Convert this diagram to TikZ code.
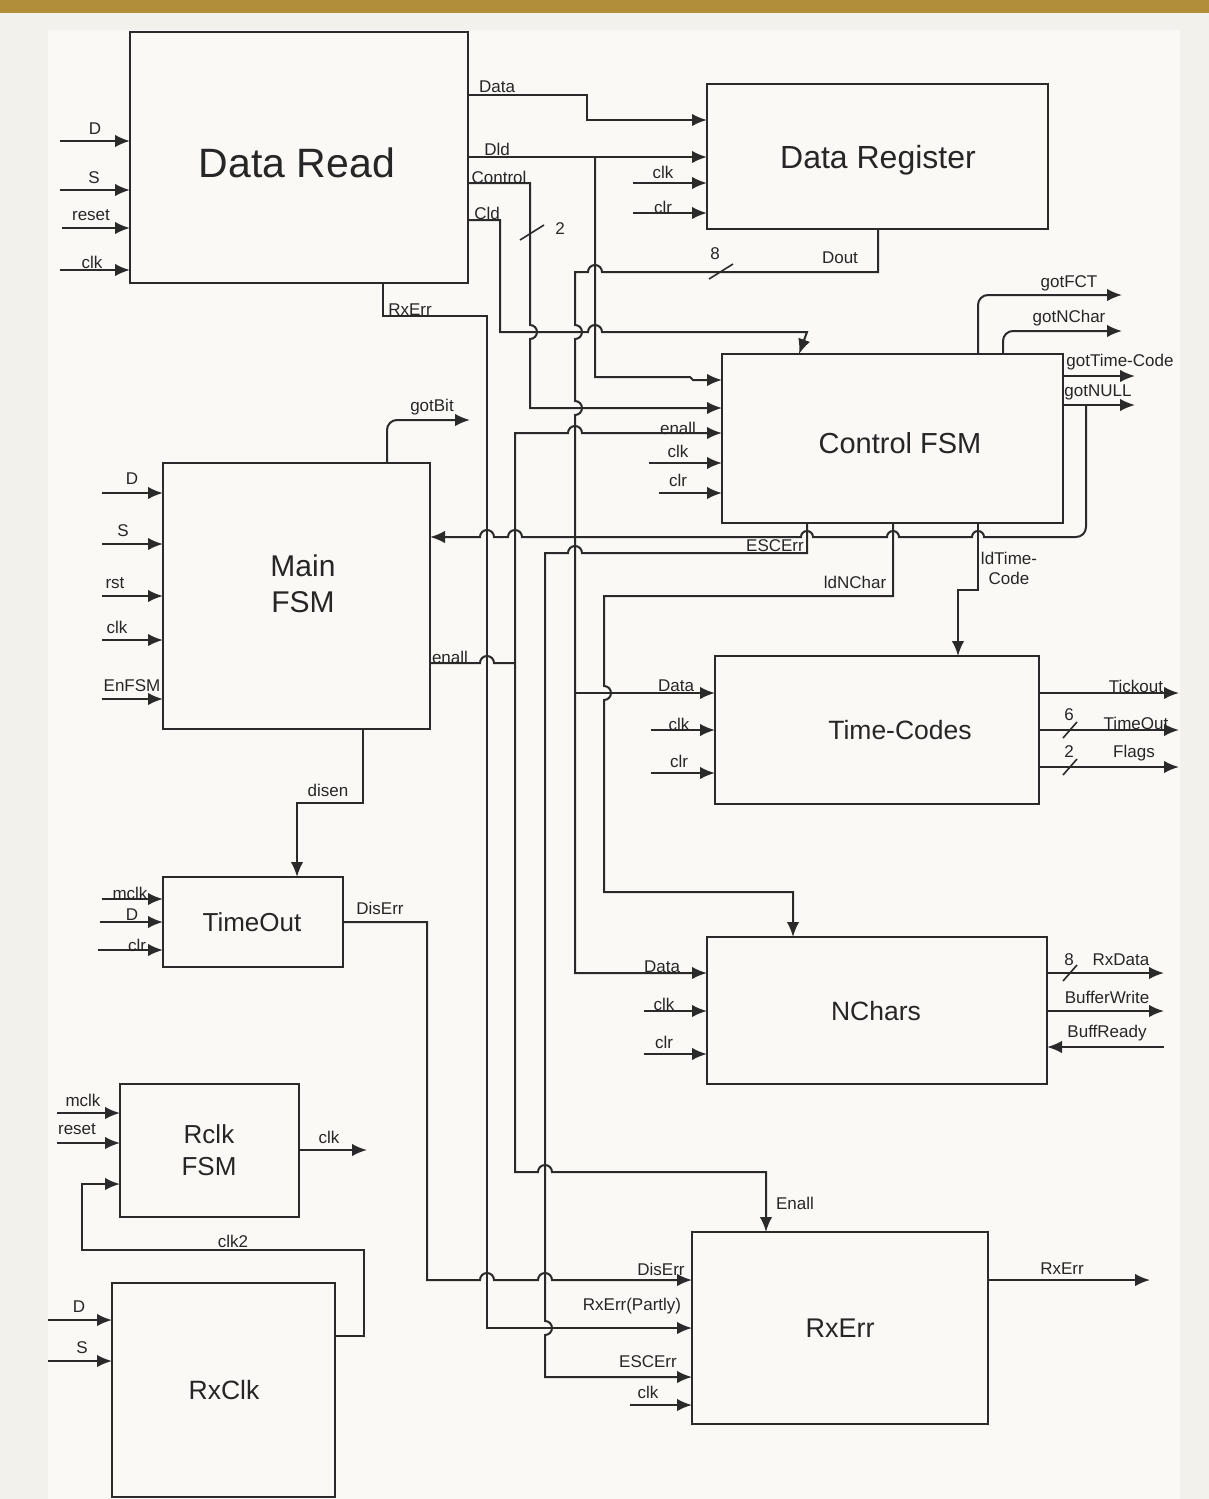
\documentclass[tikz,border=0pt]{standalone}
\usepackage{fontspec}
\setmainfont{Liberation Sans}
\usetikzlibrary{arrows.meta}
\definecolor{gold}{HTML}{B08E3A}
\definecolor{pagebg}{HTML}{F3F1EC}
\definecolor{panel}{HTML}{FAF9F6}
\definecolor{ln}{HTML}{2A2A2A}
\definecolor{txt}{HTML}{262626}
\newcommand{\sml}{\fontsize{17}{20}\selectfont}
\begin{document}
\begin{tikzpicture}[x=1pt,y=-1pt,
  wire/.style={draw=ln,line width=2pt},
  arr/.style={wire,-{Latex[length=15pt,width=12.5pt]}},
  blk/.style={draw=ln,line width=2pt,outer sep=0pt,inner sep=0pt,anchor=north west},
  lbl/.style={font=\sml,inner sep=0pt,text=txt},
  ttl/.style={inner sep=0pt,text=txt,align=center},
  bus/.style={draw=ln,line width=1.6pt}]
\useasboundingbox (0,0) rectangle (1209,1499);
\fill[pagebg] (0,0) rectangle (1209,1499);
\fill[panel] (48,30) rectangle (1180,1499);
\fill[gold] (0,0) rectangle (1209,13);

% ---------- blocks ----------
\node[blk,minimum width=338pt,minimum height=251pt] (DR) at (130,32) {};
\node[blk,minimum width=341pt,minimum height=145pt] (DRg) at (707,84) {};
\node[blk,minimum width=341pt,minimum height=169pt] (CF) at (722,354) {};
\node[blk,minimum width=267pt,minimum height=266pt] (MF) at (163,463) {};
\node[blk,minimum width=324pt,minimum height=148pt] (TC) at (715,656) {};
\node[blk,minimum width=340pt,minimum height=147pt] (NC) at (707,937) {};
\node[blk,minimum width=180pt,minimum height=90pt] (TO) at (163,877) {};
\node[blk,minimum width=179pt,minimum height=133pt] (RF) at (120,1084) {};
\node[blk,minimum width=223pt,minimum height=214pt] (RC) at (112,1283) {};
\node[blk,minimum width=296pt,minimum height=192pt] (RE) at (692,1232) {};

% ---------- block titles ----------
\node[ttl,font=\fontsize{41}{48}\selectfont,anchor=base] (DRt) at (297,177) {Data Read};
\node[ttl,font=\fontsize{32}{38}\selectfont,anchor=base] (DRgt) at (878,168) {Data Register};
\node[ttl,font=\fontsize{29}{34}\selectfont,anchor=base] (CFt) at (900,453) {Control FSM};
\node[ttl,font=\fontsize{30}{36}\selectfont] (MFt) at (303,584) {Main\\FSM};
\node[ttl,font=\fontsize{26.5}{32}\selectfont,anchor=base] (TCt) at (900,739) {Time-Codes};
\node[ttl,font=\fontsize{26.5}{32}\selectfont,anchor=base] (NCt) at (876,1020) {NChars};
\node[ttl,font=\fontsize{26}{31}\selectfont,anchor=base] (TOt) at (252,931) {TimeOut};
\node[ttl,font=\fontsize{26}{32}\selectfont] (RFt) at (209,1150) {Rclk\\FSM};
\node[ttl,font=\fontsize{26.5}{32}\selectfont,anchor=base] (RCt) at (224,1399) {RxClk};
\node[ttl,font=\fontsize{27}{32}\selectfont,anchor=base] (REt) at (840,1337) {RxErr};

% ---------- Data Read inputs ----------
\draw[arr] (60,141) -- (DR.west |- 0,141);
\draw[arr] (60,190) -- (DR.west |- 0,190);
\draw[arr] (62,228) -- (DR.west |- 0,228);
\draw[arr] (60,270) -- (DR.west |- 0,270);
\node[lbl] at (95,129) {D};
\node[lbl] at (94,178) {S};
\node[lbl] at (91,215) {reset};
\node[lbl] at (92,262) {clk};

% ---------- Data Read outputs ----------
\draw[arr] (DR.east |- 0,95) -- (587,95) -- (587,120) -- (DRg.west |- 0,120);
\draw[arr] (DR.east |- 0,157) -- (DRg.west |- 0,157);
\draw[arr] (595,157) -- (595,377) -- (690,377) -- (693,380) -- (CF.west |- 0,380);
\draw[arr] (DR.east |- 0,183) -- (530,183) -- (530,325)
   arc[start angle=90,end angle=-90,radius=7pt] -- (530,408) -- (CF.west |- 0,408);
\draw[bus] (520,240) -- (544,225);
\node[lbl] at (560,229) {2};
\draw[arr] (DR.east |- 0,220) -- (500,220) -- (500,332) -- (588,332)
   arc[start angle=180,end angle=0,radius=7pt] -- (807,332) -- (CF.north -| 799,0);
\node[lbl] at (497,87) {Data};
\node[lbl] at (497,149) {Dld};
\node[lbl] at (499,177) {Control};
\node[lbl] at (487,213) {Cld};

% RxErr from Data Read
\draw[arr] (DR.south -| 383,0) -- (383,316) -- (487,316) -- (487,1328) -- (RE.west |- 0,1328);
\node[lbl] at (410,310) {RxErr};

% ---------- Data Register ----------
\draw[arr] (633,183) -- (DRg.west |- 0,183);
\draw[arr] (633,213) -- (DRg.west |- 0,213);
\node[lbl] at (663,172) {clk};
\node[lbl] at (663,207) {clr};
\draw[arr] (DRg.south -| 878,0) -- (878,272) -- (602,272)
   arc[start angle=0,end angle=180,radius=7pt] -- (575,272) -- (575,325)
   arc[start angle=90,end angle=-90,radius=7pt] -- (575,401)
   arc[start angle=90,end angle=-90,radius=7pt] -- (575,973) -- (NC.west |- 0,973);
\draw[arr] (575,693) -- (TC.west |- 0,693);
\draw[bus] (709,279) -- (733,264);
\node[lbl] at (715,254) {8};
\node[lbl] at (840,258) {Dout};

% ---------- Control FSM ----------
\draw[arr] (649,463) -- (CF.west |- 0,463);
\draw[arr] (659,493) -- (CF.west |- 0,493);
\node[lbl] at (678,428) {enall};
\node[lbl] at (678,451) {clk};
\node[lbl] at (678,480) {clr};
\draw[arr,rounded corners=10pt] (CF.north -| 978,0) -- (978,295) -- (1122,295);
\draw[arr,rounded corners=10pt] (CF.north -| 1003,0) -- (1003,331) -- (1122,331);
\draw[arr] (CF.east |- 0,376) -- (1135,376);
\draw[arr] (CF.east |- 0,405) -- (1135,405);
\node[lbl] at (1069,283) {gotFCT};
\node[lbl] at (1069,318) {gotNChar};
\node[lbl] at (1120,362) {gotTime-Code};
\node[lbl] at (1098,392) {gotNULL};
% feedback to Main FSM
\draw[arr] (1086,405) -- (1086,527) arc[start angle=0,end angle=-90,radius=10pt]
   -- (984,537) arc[start angle=0,end angle=180,radius=6pt]
   -- (899,537) arc[start angle=0,end angle=180,radius=6pt]
   -- (813,537) arc[start angle=0,end angle=180,radius=6pt]
   -- (522,537) arc[start angle=0,end angle=180,radius=7pt]
   -- (494,537) arc[start angle=0,end angle=180,radius=7pt]
   -- (MF.east |- 0,537);
% ESCErr
\draw[arr] (CF.south -| 807,0) -- (807,553) -- (582,553)
   arc[start angle=0,end angle=180,radius=7pt] -- (545,553) -- (545,1321)
   arc[start angle=90,end angle=-90,radius=7pt] -- (545,1377) -- (RE.west |- 0,1377);
\node[lbl] at (775,546) {ESCErr};
% ldNChar
\draw[arr] (CF.south -| 893,0) -- (893,596) -- (604,596) -- (604,686)
   arc[start angle=90,end angle=-90,radius=7pt] -- (604,892) -- (793,892) -- (NC.north -| 793,0);
\node[lbl] at (855,582) {ldNChar};
% ldTime-Code
\draw[arr] (CF.south -| 978,0) -- (978,590) -- (958,590) -- (TC.north -| 958,0);
\node[lbl,align=center,font=\fontsize{17}{20}\selectfont] at (1009,568) {ldTime-\\Code};

% ---------- Main FSM ----------
\draw[arr] (102,493) -- (MF.west |- 0,493);
\draw[arr] (102,544) -- (MF.west |- 0,544);
\draw[arr] (102,596) -- (MF.west |- 0,596);
\draw[arr] (102,640) -- (MF.west |- 0,640);
\draw[arr] (102,699) -- (MF.west |- 0,699);
\node[lbl] at (132,479) {D};
\node[lbl] at (123,531) {S};
\node[lbl] at (115,583) {rst};
\node[lbl] at (117,627) {clk};
\node[lbl] at (132,686) {EnFSM};
\draw[arr,rounded corners=10pt] (MF.north -| 387,0) -- (387,420) -- (470,420);
\node[lbl] at (432,407) {gotBit};
% enall
\draw[wire] (MF.east |- 0,663) -- (480,663) arc[start angle=180,end angle=0,radius=7pt] -- (515,663);
\node[lbl] at (450,657) {enall};
\draw[arr] (515,663) -- (515,433) -- (568,433)
   arc[start angle=180,end angle=0,radius=7pt] -- (CF.west |- 0,433);
\draw[arr] (515,663) -- (515,1172) -- (538,1172)
   arc[start angle=180,end angle=0,radius=7pt] -- (766,1172) -- (RE.north -| 766,0);
\node[lbl] at (795,1203) {Enall};
% disen
\draw[arr] (MF.south -| 363,0) -- (363,803) -- (297,803) -- (TO.north -| 297,0);
\node[lbl] at (328,790) {disen};

% ---------- TimeOut ----------
\draw[arr] (102,899) -- (TO.west |- 0,899);
\draw[arr] (100,922) -- (TO.west |- 0,922);
\draw[arr] (98,950) -- (TO.west |- 0,950);
\node[lbl] at (130,893) {mclk};
\node[lbl] at (132,915) {D};
\node[lbl] at (137,945) {clr};
\draw[arr] (TO.east |- 0,922) -- (427,922) -- (427,1280) -- (480,1280)
   arc[start angle=180,end angle=0,radius=7pt] -- (538,1280)
   arc[start angle=180,end angle=0,radius=7pt] -- (RE.west |- 0,1280);
\node[lbl] at (380,908) {DisErr};

% ---------- Rclk FSM ----------
\draw[arr] (57,1113) -- (RF.west |- 0,1113);
\draw[arr] (57,1143) -- (RF.west |- 0,1143);
\node[lbl] at (83,1100) {mclk};
\node[lbl] at (77,1129) {reset};
\draw[arr] (RF.east |- 0,1150) -- (367,1150);
\node[lbl] at (329,1137) {clk};
\draw[arr] (RC.east |- 0,1336) -- (364,1336) -- (364,1250) -- (82,1250) -- (82,1184) -- (RF.west |- 0,1184);
\node[lbl] at (233,1241) {clk2};

% ---------- RxClk ----------
\draw[arr] (48,1320) -- (RC.west |- 0,1320);
\draw[arr] (48,1361) -- (RC.west |- 0,1361);
\node[lbl] at (79,1307) {D};
\node[lbl] at (82,1348) {S};

% ---------- Time-Codes ----------
\draw[arr] (651,730) -- (TC.west |- 0,730);
\draw[arr] (651,773) -- (TC.west |- 0,773);
\node[lbl] at (676,686) {Data};
\node[lbl] at (679,724) {clk};
\node[lbl] at (679,761) {clr};
\draw[arr] (TC.east |- 0,693) -- (1179,693);
\draw[arr] (TC.east |- 0,730) -- (1179,730);
\draw[arr] (TC.east |- 0,767) -- (1179,767);
\draw[bus] (1063,738) -- (1077,722);
\draw[bus] (1063,775) -- (1077,759);
\node[lbl] at (1069,715) {6};
\node[lbl] at (1069,752) {2};
\node[lbl] at (1136,686) {Tickout};
\node[lbl] at (1136,723) {TimeOut};
\node[lbl] at (1134,753) {Flags};

% ---------- NChars ----------
\draw[arr] (644,1011) -- (NC.west |- 0,1011);
\draw[arr] (644,1054) -- (NC.west |- 0,1054);
\node[lbl] at (662,967) {Data};
\node[lbl] at (664,1004) {clk};
\node[lbl] at (664,1042) {clr};
\draw[arr] (NC.east |- 0,973) -- (1164,973);
\draw[arr] (NC.east |- 0,1011) -- (1164,1011);
\draw[arr] (1164,1047) -- (NC.east |- 0,1047);
\draw[bus] (1063,981) -- (1077,965);
\node[lbl] at (1069,960) {8};
\node[lbl] at (1121,960) {RxData};
\node[lbl] at (1107,997) {BufferWrite};
\node[lbl] at (1107,1033) {BuffReady};

% ---------- RxErr ----------
\draw[arr] (630,1405) -- (RE.west |- 0,1405);
\node[lbl] at (661,1269) {DisErr};
\node[lbl] at (632,1306) {RxErr(Partly)};
\node[lbl] at (648,1362) {ESCErr};
\node[lbl] at (648,1392) {clk};
\draw[arr] (RE.east |- 0,1280) -- (1150,1280);
\node[lbl] at (1062,1269) {RxErr};
\end{tikzpicture}
\end{document}
